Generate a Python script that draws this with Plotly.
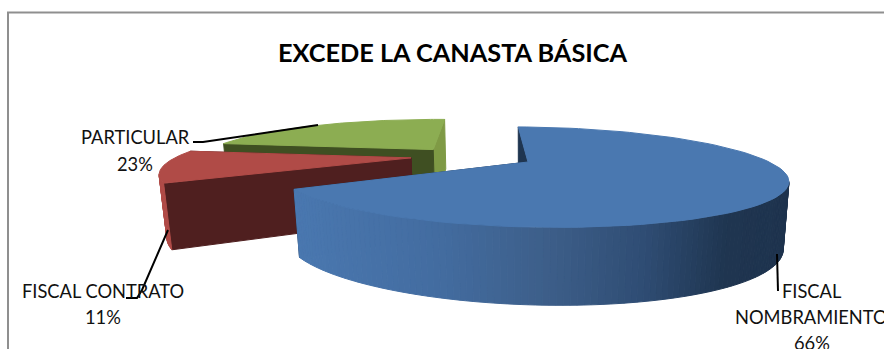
import math
import plotly.graph_objects as go

# Chart content
title_text = "EXCEDE LA CANASTA BÁSICA"
labels = ["FISCAL NOMBRAMIENTO", "FISCAL CONTRATO", "PARTICULAR"]
values = [66, 11, 23]
explode_x = [0.0, -0.495, -0.425]
explode_y = [0.0, 0.05, 0.26]
start_angle = -3.0

# Colours per slice
top_colors = ["#4a78b0", "#b04b47", "#8cad52"]
start_face_colors = ["#1f3550", "#4f1f1f", "#3f4f22"]
end_face_colors = ["#1f3550", "#4f1f1f", "#7f9a45"]
blue_side_stops = [(0.0, (74, 120, 176)), (0.3, (67, 108, 160)), (0.514, (61, 95, 138)),
                   (0.716, (47, 77, 116)), (0.883, (31, 53, 80)), (1.0, (30, 51, 78))]
red_side = "#b04b47"
green_side = "#7f9a45"

# Projection of the tilted pie
CX, CY = 528.0, 162.0
A, B, K = 242.7, 45.5, 0.30
TILT_W, TILT_Y = 0.024, 4.0
DEPTH, HEIGHT, HEIGHT_POW, HEIGHT_TILT = 0.02, 62.0, 0.7, 1.0


def project(x, y, lower=False):
    w = 1 + K * y - TILT_W * x
    if lower:
        drop = HEIGHT / w ** HEIGHT_POW + HEIGHT_TILT * x / w
        w += DEPTH
    else:
        drop = 0
    return CX + A * x / w, CY - B * y / w + TILT_Y * x / w + drop


def rim(theta, ox, oy, lower=False):
    t = math.radians(theta)
    return project(ox + math.sin(t), oy + math.cos(t), lower)


def poly(fig, pts, color):
    xs = [p[0] for p in pts] + [pts[0][0]]
    ys = [p[1] for p in pts] + [pts[0][1]]
    fig.add_trace(go.Scatter(x=xs, y=ys, mode="lines", fill="toself", fillcolor=color,
                             line=dict(color=color, width=1), hoverinfo="skip", showlegend=False))


def mix(stops, f):
    for (f0, c0), (f1, c1) in zip(stops, stops[1:]):
        if f <= f1:
            u = (f - f0) / (f1 - f0)
            return "rgb(%d,%d,%d)" % tuple(round(a + (b - a) * u) for a, b in zip(c0, c1))
    return "rgb(%d,%d,%d)" % stops[-1][1]


fig = go.Figure()

# Slice angle ranges, clockwise from the top of the pie
total = sum(values)
spans = []
angle = start_angle
for v, ex, ey in zip(values, explode_x, explode_y):
    sweep = 360.0 * v / total
    spans.append((angle, angle + sweep, ex, ey))
    angle += sweep


def arc(a0, a1, ox, oy, lower=False, n=90):
    return [rim(a0 + (a1 - a0) * i / n, ox, oy, lower) for i in range(n + 1)]


def draw_slice(i):
    a0, a1, ox, oy = spans[i]
    apex, apex_low = project(ox, oy), project(ox, oy, True)
    # Cut faces
    poly(fig, [apex, rim(a1, ox, oy), rim(a1, ox, oy, True), apex_low], end_face_colors[i])
    poly(fig, [apex, rim(a0, ox, oy), rim(a0, ox, oy, True), apex_low], start_face_colors[i])
    # Outer wall: only the part turned towards the viewer, shaded by screen position on the large slice
    n = 200 if i == 0 else 30
    for j in range(n):
        t0 = a0 + (a1 - a0) * j / n
        t1 = a0 + (a1 - a0) * (j + 1) / n
        p0, p1 = rim(t0, ox, oy), rim(t1, ox, oy)
        q0, q1 = rim(t0, ox, oy, True), rim(t1, ox, oy, True)
        if p1[0] >= p0[0] and q1[0] >= q0[0]:
            continue
        if i == 0:
            col = mix(blue_side_stops, min(1, max(0, (p0[0] - 292) / (788 - 292))))
        else:
            col = red_side if i == 1 else green_side
        poly(fig, [p0, p1, q1, q0], col)
    # Top surface
    poly(fig, [apex] + arc(a0, a1, ox, oy), top_colors[i])


# Painted back to front
for i in (2, 1, 0):
    draw_slice(i)

# Leader lines
leaders = [
    ([193, 203, 318], [142, 142, 125]),
    ([168, 142, 137, 126], [230, 290, 298, 298]),
    ([777, 778], [254, 291]),
]
for lx, ly in leaders:
    fig.add_trace(go.Scatter(x=lx, y=ly, mode="lines", line=dict(color="black", width=2),
                             hoverinfo="skip", showlegend=False))

# Data labels
pct = [f"{round(100 * v / total)}%" for v in values]
FONT = "Lato, Carlito, Calibri, sans-serif"
texts = [
    ("FISCAL", 812, 291), ("NOMBRAMIENTO", 811, 317), (pct[0], 812, 343),
    (labels[1], 103, 291), (pct[1], 103, 317),
    (labels[2], 135, 137), (pct[2], 135, 164),
]
annotations = [dict(x=x, y=y, text=t, showarrow=False, xanchor="center", yanchor="middle",
                    font=dict(family=FONT, size=18.3, color="#111111")) for t, x, y in texts]

fig.update_layout(
    width=884, height=349, margin=dict(l=0, r=0, t=0, b=0),
    paper_bgcolor="white", plot_bgcolor="white", showlegend=False,
    title=dict(text=title_text, x=452.5 / 884, y=1 - 53 / 349, xanchor="center", yanchor="middle",
               font=dict(family=FONT, size=25.3, color="black", weight="bold")),
    xaxis=dict(range=[0, 884], visible=False, fixedrange=True),
    yaxis=dict(range=[349, 0], visible=False, fixedrange=True),
    annotations=annotations,
    shapes=[dict(type="rect", x0=8, y0=12.5, x1=900, y1=360, line=dict(color="#8f8f8f", width=2), layer="below")],
)

fig.write_html("out.html", config=dict(displayModeBar=False))
